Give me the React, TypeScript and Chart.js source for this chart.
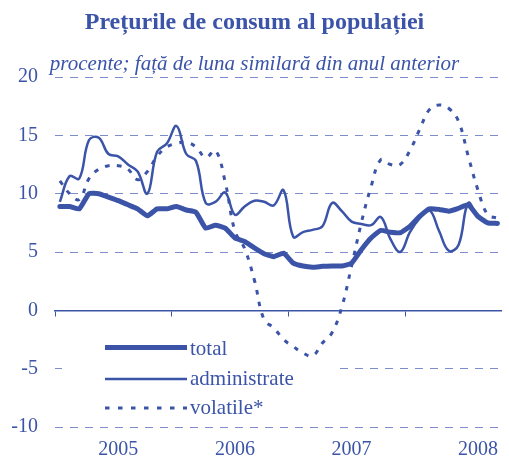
import React, { useEffect, useRef } from 'react';
import { Chart, registerables } from 'chart.js';

Chart.register(...registerables);

// Monthly values, Jan 2005 .. Oct 2008 (index 0..45)
const total = [
  8.9, 8.9, 8.7, 10.0, 10.0, 9.7, 9.4, 9.05, 8.7, 8.1, 8.7, 8.7,
  8.9, 8.6, 8.4, 7.05, 7.3, 7.05, 6.2, 5.9, 5.35, 4.85, 4.6, 4.9,
  4.05, 3.8, 3.7, 3.77, 3.8, 3.8, 4.05, 5.2, 6.2, 6.85, 6.7, 6.65,
  7.2, 8.05, 8.7, 8.65, 8.5, 8.75, 9.05, 8.05, 7.5, 7.45,
];
const administrate = [
  9.3, 11.5, 11.3, 14.6, 14.8, 13.4, 13.2, 12.5, 11.9, 10.0, 13.6, 14.3,
  15.8, 13.4, 12.8, 9.2, 9.3, 10.1, 8.2, 8.9, 9.4, 9.3, 9.0, 10.3,
  6.3, 6.7, 6.9, 7.2, 9.2, 8.5, 7.6, 7.4, 7.3, 8.0, 6.1, 5.0,
  6.7, 7.9, 8.6, 6.8, 5.1, 5.6, 9.2, 8.0, 7.5, 7.5,
];
const volatile = [
  11.1, 10.0, 9.5, 11.3, 12.1, 12.4, 12.4, 12.1, 11.2, 11.9, 13.2, 14.0,
  14.3, 14.4, 14.0, 13.1, 13.7, 11.0, 6.8, 5.3, 2.6, -0.8, -1.5, -2.5,
  -3.1, -3.65, -3.9, -2.8, -1.9, 0.3, 3.8, 7.5, 10.6, 12.9, 12.5, 12.5,
  13.7, 15.5, 17.2, 17.6, 17.3, 16.2, 13.2, 10.3, 8.2, 7.9,
];
const yearLabels = ['2005', '2006', '2007', '2008'];
const yearLabelAt = [6, 18, 30, 43];
const yearStarts = [-0.5, 11.5, 23.5, 35.5];
const seriesNames = ['total', 'administrate', 'volatile*'];

const BLUE = '#3B54A8';
const GRID = '#7D8CCB';
const SERIF = '"Liberation Serif", "Times New Roman", serif';

const overlayPlugin = {
  id: 'overlayLegend',
  beforeDatasetsDraw(chart: any) {
    const ctx = chart.ctx;
    const y = chart.scales.y.getPixelForValue(-5);
    ctx.save();
    ctx.fillStyle = '#ffffff';
    ctx.fillRect(62, y - 4, 274, 8);
    ctx.restore();
  },
  afterDatasetsDraw(chart: any) {
    const ctx = chart.ctx;
    const rows = [
      { y: 347.5, w: 5, dash: [] as number[], ty: 349 },
      { y: 379, w: 2.5, dash: [] as number[], ty: 379 },
      { y: 408, w: 3, dash: [4.5, 8.5], ty: 408.5 },
    ];
    ctx.save();
    rows.forEach((r, i) => {
      ctx.beginPath();
      ctx.setLineDash(r.dash);
      ctx.lineWidth = r.w;
      ctx.strokeStyle = BLUE;
      ctx.moveTo(105, r.y);
      ctx.lineTo(187, r.y);
      ctx.stroke();
      ctx.setLineDash([]);
      ctx.fillStyle = BLUE;
      ctx.font = `21px ${SERIF}`;
      ctx.textBaseline = 'middle';
      ctx.textAlign = 'left';
      ctx.fillText(seriesNames[i], 190, r.ty);
    });
    ctx.restore();
  },
};

export default function App() {
  const ref = useRef<HTMLCanvasElement>(null);
  useEffect(() => {
    const toPts = (arr: number[]) => arr.map((v, i) => ({ x: i, y: v }));
    const chart = new Chart(ref.current as HTMLCanvasElement, {
      type: 'line',
      data: {
        datasets: [
          {
            label: seriesNames[0],
            data: toPts(total),
            borderColor: BLUE,
            borderWidth: 5,
            pointRadius: 0,
            tension: 0.15,
            borderJoinStyle: 'round',
            borderCapStyle: 'round',
          },
          {
            label: seriesNames[1],
            data: toPts(administrate),
            borderColor: BLUE,
            borderWidth: 2.5,
            pointRadius: 0,
            tension: 0.4,
          },
          {
            label: seriesNames[2],
            data: toPts(volatile),
            borderColor: BLUE,
            borderWidth: 3,
            borderDash: [4.5, 7.5],
            pointRadius: 0,
            tension: 0.4,
          },
        ],
      },
      options: {
        animation: false,
        responsive: true,
        maintainAspectRatio: false,
        layout: { padding: 0 },
        plugins: {
          legend: { display: false },
          tooltip: { enabled: false },
          title: {
            display: true,
            text: 'Prețurile de consum al populației',
            color: BLUE,
            font: { family: SERIF, size: 24, weight: 'bold', lineHeight: 1.2 },
            padding: { top: 8.6, bottom: 14.4 },
          },
          subtitle: {
            display: true,
            text: 'procente; față de luna similară din anul anterior',
            color: BLUE,
            font: { family: SERIF, size: 21, style: 'italic', lineHeight: 1.2 },
            padding: { top: 0, bottom: 0 },
          },
        },
        scales: {
          x: {
            type: 'linear',
            position: 'bottom',
            min: -0.5,
            max: 45.4,
            afterBuildTicks: (s: any) => {
              s.ticks = yearLabelAt.map((v) => ({ value: v }));
            },
            afterFit: (s: any) => {
              s.height = 30;
            },
            ticks: {
              autoSkip: false,
              maxRotation: 0,
              color: BLUE,
              font: { family: SERIF, size: 20 },
              padding: 11,
              callback: (_v: any, i: number) => yearLabels[i],
            },
            grid: { display: false, drawTicks: false },
            border: { display: false },
          },
          x0: {
            type: 'linear',
            position: { y: 0 },
            min: -0.5,
            max: 45.4,
            afterBuildTicks: (s: any) => {
              s.ticks = yearStarts.map((v) => ({ value: v }));
            },
            ticks: { display: false },
            grid: {
              drawOnChartArea: false,
              drawTicks: true,
              tickLength: 5,
              color: BLUE,
              lineWidth: 1,
            },
            border: { display: true, color: BLUE, width: 1.5 },
          },
          y: {
            min: -10,
            max: 20,
            afterFit: (s: any) => {
              s.width = 55;
            },
            ticks: {
              stepSize: 5,
              color: BLUE,
              font: { family: SERIF, size: 20 },
              padding: 17,
            },
            grid: {
              color: (c: any) => (c.tick && c.tick.value === 0 ? 'rgba(0,0,0,0)' : GRID),
              lineWidth: 1,
              drawTicks: false,
            },
            border: { display: false, dash: [8, 7] },
          },
        },
      },
      plugins: [overlayPlugin],
    } as any);
    return () => chart.destroy();
  }, []);
  return (
    <div style={{ position: 'absolute', left: 0, top: 0, width: 509, height: 457 }}>
      <canvas ref={ref} />
    </div>
  );
}
